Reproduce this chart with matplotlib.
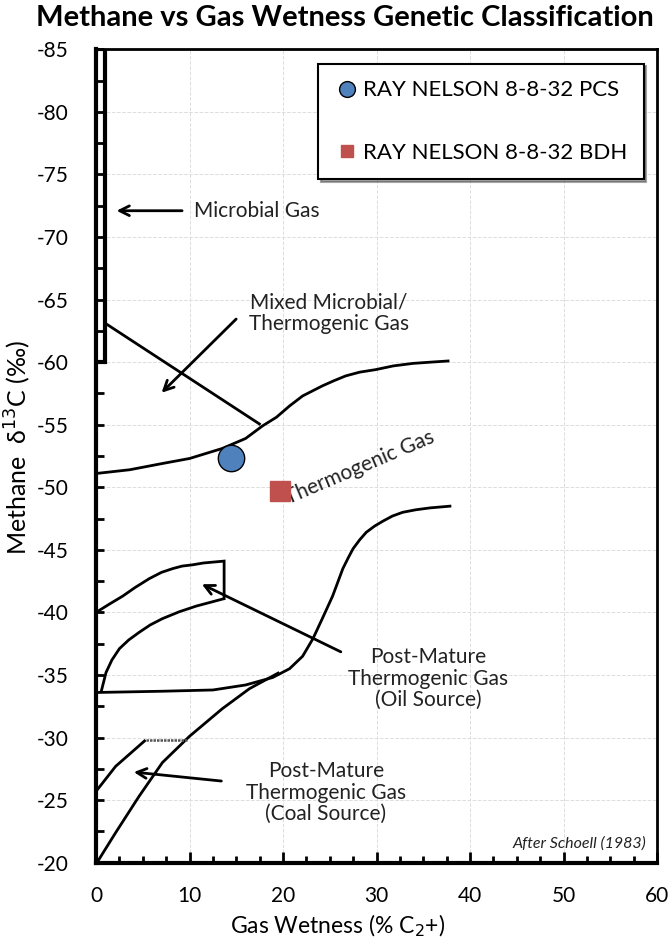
import matplotlib
matplotlib.use('Agg')
import matplotlib.pyplot as plt
from matplotlib.ticker import MultipleLocator

plt.rcParams['font.family'] = ['Lato', 'DejaVu Sans']
plt.rcParams['axes.unicode_minus'] = False

# sample points
pcs_x = [14.4]
pcs_y = [-52.3]
bdh_x = [19.7]
bdh_y = [-49.7]

# boundary lines
microbial_x = [0, 1, 1, 0]
microbial_y = [-85, -85, -60, -60]

mixed_x = [1, 17.6]
mixed_y = [-63.1, -55.0]

thermo_x = [0, 3.6, 7.1, 10.0, 13.5, 16.0, 17.8, 19.3, 20.7, 22.1, 24.2, 25.4, 26.7, 28.2, 29.9,
            31.8, 33.9, 35.8, 37.8]
thermo_y = [-51.1, -51.4, -51.9, -52.3, -53.1, -53.9, -54.9, -55.6, -56.5, -57.3, -58.1, -58.5,
            -58.9, -59.2, -59.4, -59.7, -59.9, -60.0, -60.1]

oil_base_x = [0, 7.1, 12.5, 16.0, 18.9, 20.7, 22.1, 23.2, 24.2, 25.3, 26.4, 27.0, 27.5, 28.2, 28.9,
              29.8, 30.7, 31.7, 32.8, 34.2, 35.7, 38.0]
oil_base_y = [-33.6, -33.7, -33.8, -34.2, -34.8, -35.5, -36.5, -37.9, -39.5, -41.3, -43.5, -44.4,
              -45.1, -45.8, -46.4, -46.9, -47.3, -47.7, -48.0, -48.2, -48.35, -48.5]

oil_top_x = [0, 1.4, 2.85, 4.2, 5.7, 7.0, 8.2, 9.2, 10.3, 11.5, 13.7, 13.7]
oil_top_y = [-40.0, -40.65, -41.3, -42.0, -42.7, -43.2, -43.5, -43.7, -43.8, -43.95, -44.1, -41.1]

oil_low_x = [13.7, 12.2, 10.7, 8.9, 7.1, 5.8, 4.6, 3.5, 2.5, 1.7, 1.07, 0.8, 0.53]
oil_low_y = [-41.1, -40.8, -40.5, -40.05, -39.5, -39.0, -38.4, -37.8, -37.1, -36.2, -35.2, -34.4, -33.6]

coal_low_x = [0.18, 2.1, 4.6, 7.1, 10.0, 13.5, 16.4, 19.6]
coal_low_y = [-20.1, -22.4, -25.3, -28.0, -30.1, -32.3, -33.9, -35.2]

coal_up_x = [0, 2.1, 5.3]
coal_up_y = [-25.7, -27.7, -29.8]
coal_flat_x = [5.3, 9.8]
coal_flat_y = [-29.8, -29.8]

fig = plt.figure(figsize=(6.72, 9.43), dpi=100)
ax = fig.add_axes([0.1429, 0.0852, 0.8348, 0.8625])

lw = 2
line = dict(color='black', lw=lw, solid_joinstyle='round', solid_capstyle='butt')
ax.plot(microbial_x, microbial_y, color='black', lw=3, solid_joinstyle='miter')
ax.plot(mixed_x, mixed_y, **line)
ax.plot(thermo_x, thermo_y, **line)
ax.plot(oil_base_x, oil_base_y, **line)
ax.plot(oil_top_x, oil_top_y, color='black', lw=lw, solid_joinstyle='miter')
ax.plot(oil_low_x, oil_low_y, **line)
ax.plot(coal_low_x, coal_low_y, **line)
ax.plot(coal_up_x, coal_up_y, **line)
ax.plot(coal_flat_x, coal_flat_y, color='#555555', lw=1.8, ls=(0, (1, 0.4)))

arrow = dict(arrowstyle='->,head_length=0.7,head_width=0.35', color='black', lw=2)
ax.annotate('', xy=(1.9, -72.1), xytext=(9.5, -72.1), arrowprops=arrow)
ax.annotate('', xy=(6.8, -57.4), xytext=(15.2, -63.6), arrowprops=arrow)
ax.annotate('', xy=(11.05, -42.35), xytext=(26.45, -36.75), arrowprops=arrow)
ax.annotate('', xy=(3.74, -27.26), xytext=(13.7, -26.5), arrowprops=arrow)

fs = 15
tc = '#222222'
ax.text(10.5, -72.1, 'Microbial Gas', fontsize=fs, va='center', ha='left', color=tc)
ax.text(24.9, -63.9, 'Mixed Microbial/\nThermogenic Gas', fontsize=fs, va='center', ha='center',
        color=tc, linespacing=1.1)
ax.text(28.2, -51.6, 'Thermogenic Gas', fontsize=fs, va='center', ha='center', rotation=23,
        color=tc, zorder=2)
ax.text(35.5, -34.7, 'Post-Mature\nThermogenic Gas\n(Oil Source)', fontsize=fs, va='center',
        ha='center', color=tc, linespacing=1.1)
ax.text(24.6, -25.6, 'Post-Mature\nThermogenic Gas\n(Coal Source)', fontsize=fs, va='center',
        ha='center', color=tc, linespacing=1.1)
ax.text(58.9, -21.5, 'After Schoell (1983)', fontsize=11.5, style='italic', ha='right', va='center',
        color=tc)

ax.plot(pcs_x, pcs_y, 'o', color='#4F81BD', markeredgecolor='black', markeredgewidth=1,
        markersize=19, linestyle='none', label='RAY NELSON 8-8-32 PCS', zorder=5)
ax.plot(bdh_x, bdh_y, 's', color='#C0504D', markeredgecolor='#C0504D', markersize=15,
        linestyle='none', label='RAY NELSON 8-8-32 BDH', zorder=5)

ax.set_xlim(0, 60)
ax.set_ylim(-20, -85)
ax.xaxis.set_major_locator(MultipleLocator(10))
ax.xaxis.set_minor_locator(MultipleLocator(2.5))
ax.yaxis.set_major_locator(MultipleLocator(5))
ax.yaxis.set_minor_locator(MultipleLocator(2.5))
ax.tick_params(which='both', direction='in', labelsize=15, width=2)
ax.tick_params(axis='x', which='major', length=8, pad=17)
ax.tick_params(axis='x', which='minor', length=5)
ax.tick_params(axis='y', which='both', length=6, pad=20)
ax.grid(True, which='major', color='#dddddd', ls='--', lw=0.7)
ax.set_axisbelow(True)

for side in ['left', 'bottom']:
    ax.spines[side].set_linewidth(3)
for side in ['top', 'right']:
    ax.spines[side].set_linewidth(2)

ax.set_ylabel('Methane  \u03b4$^{13}$C (\u2030)', fontsize=18)
ax.yaxis.set_label_coords(-0.113, 0.51)
ax.set_xlabel('Gas Wetness (% C$_2$+)', fontsize=16.5)
ax.xaxis.set_label_coords(0.43, -0.061)

handles, labels = ax.get_legend_handles_labels()
leg = ax.legend(handles, labels, loc='upper right', bbox_to_anchor=(0.996, 0.996), fontsize=16,
                labelspacing=1.9, borderpad=0.75, handletextpad=0.15, handlelength=1.1,
                markerscale=0.6, fancybox=False, shadow=True, framealpha=1, edgecolor='black')
leg.get_frame().set_linewidth(1.5)

fig.text(0.513, 0.981, 'Methane vs Gas Wetness Genetic Classification', fontsize=21,
         fontweight='bold', ha='center', va='center')

fig.savefig('out.png', dpi=100)
